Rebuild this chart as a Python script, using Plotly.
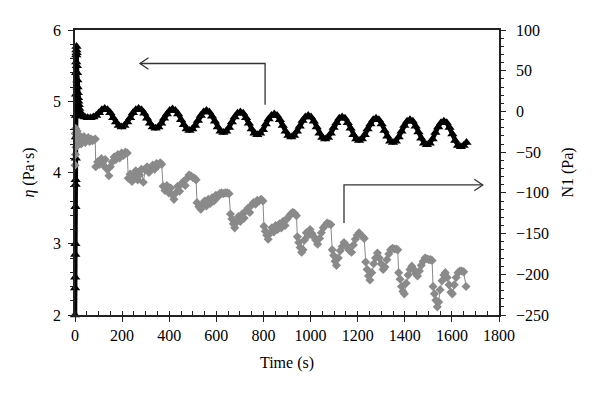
import plotly.graph_objects as go

# ---- eta (Pa·s), left axis: time (s) and values ----
eta_time = [0, 0.4, 0.8, 1.2, 1.6, 2.0, 2.4, 2.8, 3.2, 3.6, 4.0, 4.4, 4.8, 5.2, 5.6, 6, 6.5, 7, 8, 9, 10, 11, 12, 13, 14, 16, 18, 20, 22, 25,
            30, 42, 54, 66, 78, 90, 102, 114, 126,
            138, 150, 162, 174, 186, 198, 210, 222, 234, 246, 258, 270,
            282, 294, 306, 318, 330, 342, 354, 366, 378, 390, 402, 414,
            426, 438, 450, 462, 474, 486, 498, 510, 522, 534, 546, 558,
            570, 582, 594, 606, 618, 630, 642, 654, 666, 678, 690, 702,
            714, 726, 738, 750, 762, 774, 786, 798, 810, 822, 834, 846,
            858, 870, 882, 894, 906, 918, 930, 942, 954, 966, 978, 990,
            1002, 1014, 1026, 1038, 1050, 1062, 1074, 1086, 1098, 1110, 1122, 1134,
            1146, 1158, 1170, 1182, 1194, 1206, 1218, 1230, 1242, 1254, 1266, 1278,
            1290, 1302, 1314, 1326, 1338, 1350, 1362, 1374, 1386, 1398, 1410, 1422,
            1434, 1446, 1458, 1470, 1482, 1494, 1506, 1518, 1530, 1542, 1554, 1566,
            1578, 1590, 1602, 1614, 1626, 1638, 1650, 1662]
eta_vals = [2.0, 2.38, 2.53, 2.85, 3.0, 3.52, 3.83, 3.9, 4.2, 4.5, 4.8, 5.1, 5.4, 5.55, 5.65, 5.72, 5.77, 5.68, 5.5, 5.4, 5.3, 5.2, 5.12, 5.05, 5.0, 4.95, 4.9, 4.86, 4.83, 4.81,
            4.79, 4.78, 4.77, 4.77, 4.78, 4.80, 4.84, 4.88, 4.90,
            4.88, 4.84, 4.77, 4.71, 4.66, 4.64, 4.66, 4.71, 4.77, 4.84, 4.88, 4.90,
            4.88, 4.83, 4.76, 4.69, 4.64, 4.62, 4.64, 4.69, 4.76, 4.82, 4.87, 4.89,
            4.87, 4.82, 4.74, 4.67, 4.61, 4.59, 4.61, 4.66, 4.73, 4.80, 4.85, 4.87,
            4.85, 4.79, 4.72, 4.64, 4.58, 4.56, 4.58, 4.63, 4.71, 4.78, 4.83, 4.85,
            4.83, 4.77, 4.69, 4.61, 4.55, 4.53, 4.55, 4.60, 4.68, 4.75, 4.80, 4.82,
            4.80, 4.74, 4.66, 4.58, 4.52, 4.50, 4.52, 4.58, 4.65, 4.73, 4.78, 4.80,
            4.78, 4.72, 4.64, 4.55, 4.49, 4.47, 4.49, 4.55, 4.63, 4.70, 4.76, 4.78,
            4.76, 4.70, 4.62, 4.53, 4.47, 4.45, 4.47, 4.53, 4.61, 4.68, 4.74, 4.76,
            4.74, 4.68, 4.59, 4.51, 4.44, 4.42, 4.44, 4.50, 4.58, 4.66, 4.72, 4.74,
            4.72, 4.65, 4.57, 4.48, 4.41, 4.39, 4.41, 4.47, 4.56, 4.64, 4.70, 4.72,
            4.70, 4.63, 4.54, 4.45, 4.38, 4.36, 4.38, 4.42]

# ---- N1 (Pa), right axis: time (s) and values ----
n1_time = [0, 1, 2, 3, 4, 6, 9, 14, 20, 26, 32, 38, 44, 50, 56, 62, 68, 74, 80, 86,
           88, 96, 104, 112, 120, 128, 136, 144, 150, 158, 166, 174, 182, 190, 198, 206, 214, 222,
           226, 234, 242, 250, 258, 266, 274, 282, 290, 298, 306, 314, 322, 330, 338, 346, 354, 362, 368,
           374, 382, 390, 398, 406, 414, 420, 428, 436, 444, 452, 460, 468, 476, 484, 492, 500, 508, 514,
           518, 526, 534, 542, 550, 558, 566, 574, 582, 590, 598, 606, 614, 622, 630, 638, 646, 654,
           660, 666, 672, 678, 686, 694, 702, 710, 718, 726, 734, 742, 750, 758, 766, 774, 782, 790, 798,
           802, 808, 814, 820, 828, 836, 844, 852, 860, 868, 876, 884, 892, 900, 908, 916, 924, 932, 940,
           944, 950, 956, 962, 968, 974, 982, 990, 998, 1006, 1014, 1022, 1030, 1038, 1046, 1054, 1062, 1070, 1078, 1086,
           1092, 1098, 1104, 1110, 1118, 1126, 1134, 1142, 1150, 1158, 1166, 1174, 1182, 1190, 1198, 1206, 1214, 1222, 1228,
           1234, 1240, 1246, 1252, 1260, 1268, 1276, 1284, 1292, 1300, 1308, 1316, 1324, 1332, 1340, 1348, 1356, 1364, 1370,
           1374, 1380, 1386, 1392, 1398, 1406, 1414, 1422, 1430, 1438, 1446, 1454, 1462, 1470, 1478, 1486, 1494, 1502, 1510, 1516,
           1520, 1526, 1532, 1538, 1544, 1550, 1558, 1566, 1572, 1580, 1588, 1596, 1602, 1610, 1618, 1626, 1634, 1642, 1650, 1660]
n1_vals = [-66, -27, -53, -21, -44, -31, -24, -36, -30, -40, -33, -31, -38, -35, -32, -37, -34, -36, -35, -34,
           -68, -62, -65, -58, -66, -59, -71, -79, -68, -62, -56, -59, -53, -57, -51, -54, -50, -51,
           -82, -77, -86, -79, -73, -84, -78, -71, -87, -72, -68, -75, -70, -66, -71, -64, -66, -63, -65,
           -92, -97, -91, -100, -94, -103, -108, -100, -92, -98, -89, -86, -91, -82, -78, -79, -81, -82, -84,
           -112, -117, -120, -114, -110, -116, -108, -113, -106, -110, -103, -105, -101, -100, -101, -100, -100, -101,
           -126, -132, -138, -143, -136, -129, -135, -126, -131, -122, -119, -124, -115, -112, -114, -109, -110, -108, -110,
           -141, -147, -152, -157, -150, -143, -148, -140, -145, -138, -143, -135, -140, -132, -129, -126, -124, -125, -128,
           -154, -161, -167, -173, -170, -158, -149, -152, -145, -150, -154, -158, -163, -156, -149, -143, -140, -137, -138, -139,
           -170, -177, -184, -189, -180, -171, -166, -161, -164, -168, -171, -173, -164, -157, -152, -149, -152, -154, -156,
           -185, -194, -202, -207, -198, -187, -180, -174, -180, -187, -194, -191, -182, -175, -170, -168, -169, -169, -170,
           -198, -206, -215, -221, -224, -211, -201, -194, -190, -194, -199, -202, -196, -189, -184, -180, -181, -182, -182, -183,
           -215, -224, -232, -240, -234, -219, -208, -201, -198, -204, -213, -222, -224, -213, -204, -198, -196, -196, -197, -215]

x_ticks = [0, 200, 400, 600, 800, 1000, 1200, 1400, 1600, 1800]

FONT = "Liberation Serif"
AX = "#222222"

fig = go.Figure()
fig.add_trace(go.Scatter(
    x=n1_time, y=n1_vals, yaxis="y2", mode="lines+markers",
    line=dict(color="#8a8a8a", width=1),
    marker=dict(symbol="diamond", size=7, color="#8a8a8a"),
    cliponaxis=False, showlegend=False))
fig.add_trace(go.Scatter(
    x=eta_time, y=eta_vals, yaxis="y", mode="lines+markers",
    line=dict(color="black", width=4.5),
    marker=dict(symbol="triangle-up", size=9, color="black"),
    cliponaxis=False, showlegend=False))

# arrows (annotation guides)
ln = dict(color="#333333", width=1.3)
fig.add_shape(type="path", xref="x", yref="y", path="M 807,4.95 L 807,5.53 L 276,5.53", line=ln)
fig.add_shape(type="path", xref="x", yref="y", path="M 312,5.61 L 276,5.53 L 312,5.45", line=ln)
fig.add_shape(type="path", xref="x", yref="y", path="M 1142,3.29 L 1142,3.825 L 1731,3.825", line=ln)
fig.add_shape(type="path", xref="x", yref="y", path="M 1695,3.905 L 1731,3.825 L 1695,3.745", line=ln)

fig.update_layout(
    width=592, height=386,
    margin=dict(l=67, r=101, t=22, b=79),
    paper_bgcolor="white", plot_bgcolor="white",
    font=dict(family=FONT, size=16, color="black"),
    xaxis=dict(range=[0, 1800], tickvals=x_ticks, showgrid=False, zeroline=False,
               showline=True, linecolor=AX, linewidth=1.5, mirror=True,
               ticks="outside", ticklen=5, tickcolor=AX,
               minor=dict(dtick=50, ticks="inside", ticklen=4, tickcolor=AX),
               title=dict(text="Time (s)", font=dict(size=16), standoff=14),
               tickfont=dict(size=16)),
    yaxis=dict(range=[2, 6], dtick=1, showgrid=False, zeroline=False,
               showline=True, linecolor=AX, linewidth=1.5,
               ticks="outside", ticklen=5, tickcolor=AX, ticklabelstandoff=4,
               minor=dict(dtick=0.2, ticks="outside", ticklen=3, tickcolor=AX),
               title=dict(text="<i>η</i> (Pa·s)", font=dict(size=16), standoff=14),
               tickfont=dict(size=16)),
    yaxis2=dict(range=[-250, 100], dtick=50, overlaying="y", side="right",
                showgrid=False, zeroline=False,
                showline=True, linecolor=AX, linewidth=1.5,
                ticks="outside", ticklen=5, tickcolor=AX, ticklabelstandoff=7,
                minor=dict(dtick=10, ticks="outside", ticklen=3, tickcolor=AX),
                title=dict(text="N1 (Pa)", font=dict(size=16), standoff=14),
                tickfont=dict(size=16)),
)

fig.write_html("out.html")
